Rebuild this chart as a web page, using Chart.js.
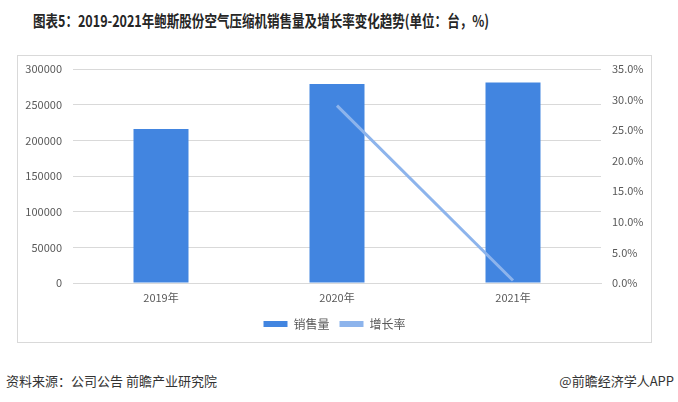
<!DOCTYPE html>
<html>
<head>
<meta charset="utf-8">
<script src="https://cdn.jsdelivr.net/npm/chart.js@4.4.1/dist/chart.umd.min.js"></script>
<style>
  html, body { margin: 0; padding: 0; background: #fff; }
  body { width: 678px; height: 402px; position: relative; overflow: hidden; font-family: "Noto Sans CJK SC", "Noto Sans", sans-serif; }
  #title { position: absolute; left: 33px; top: 10px; white-space: nowrap; font-weight: bold; font-size: 16px; line-height: 20px; color: #262626; font-family: "Liberation Sans Narrow", "Noto Sans CJK SC", sans-serif; transform-origin: left center; }
  #box { position: absolute; left: 17px; top: 55px; width: 633px; height: 286px; border: 1px solid #d9d9d9; }
  #chartWrap { position: absolute; left: 0; top: 0; width: 633px; height: 286px; }
  #src { position: absolute; left: 6px; top: 371px; font-size: 13px; color: #333; white-space: nowrap; }
  #app { position: absolute; right: 4px; top: 371px; font-size: 13px; color: #333; white-space: nowrap; }
</style>
</head>
<body>
<div id="title"><span id="titleText">图表5：2019-2021年鲍斯股份空气压缩机销售量及增长率变化趋势(单位：台，%)</span></div>
<div id="box"><div id="chartWrap"><canvas id="c" width="633" height="286"></canvas></div></div>
<div id="src">资料来源：公司公告 前瞻产业研究院</div>
<div id="app">@前瞻经济学人APP</div>
<script>
const categories = ['2019年', '2020年', '2021年'];
const salesVolume = [216000, 279000, 281000];
const growthRate = [null, 29.0, 0.4];
const leftTicks = [0, 50000, 100000, 150000, 200000, 250000, 300000];
const rightTicks = [0, 5, 10, 15, 20, 25, 30, 35];

// fit title width
(function(){
  const t = document.getElementById('title');
  const w = t.getBoundingClientRect().width;
  t.style.transform = 'scaleX(' + (456 / w) + ')';
})();

const tickColor = '#595959';
const gridColor = '#d9d9d9';

function fixVert(width) {
  return s => { s.width = width; s.paddingTop = 0; s.paddingBottom = 0; };
}

new Chart(document.getElementById('c'), {
  data: {
    labels: categories,
    datasets: [
      {
        type: 'line',
        label: '增长率',
        data: growthRate,
        yAxisID: 'y1',
        borderColor: '#8db4ec',
        backgroundColor: '#8db4ec',
        borderWidth: 3,
        pointRadius: 0,
        pointHoverRadius: 0,
        tension: 0,
        order: 1
      },
      {
        type: 'bar',
        label: '销售量',
        data: salesVolume,
        yAxisID: 'y',
        backgroundColor: '#4285e0',
        borderWidth: 0,
        categoryPercentage: 1,
        barPercentage: 0.3125,
        order: 2
      }
    ]
  },
  options: {
    responsive: false,
    animation: false,
    layout: { padding: { top: 13, bottom: 2, left: 0, right: 0 } },
    plugins: {
      tooltip: { enabled: false },
      legend: {
        position: 'bottom',
        reverse: true,
        labels: {
          boxWidth: 24,
          boxHeight: 6,
          padding: 10,
          color: tickColor,
          font: { size: 12, family: '"Noto Sans CJK SC", sans-serif' },
          generateLabels: function(chart) {
            return chart.data.datasets.map((ds, i) => ({
              text: ds.label,
              fillStyle: ds.type === 'bar' ? ds.backgroundColor : ds.borderColor,
              strokeStyle: ds.type === 'bar' ? ds.backgroundColor : ds.borderColor,
              lineWidth: 0,
              hidden: false,
              datasetIndex: i,
              fontColor: tickColor
            }));
          }
        }
      }
    },
    scales: {
      x: {
        grid: { display: false, drawTicks: false },
        border: { display: true, color: gridColor, width: 1 },
        ticks: { color: tickColor, padding: 8, font: { size: 11, family: '"Noto Sans CJK SC", sans-serif' } },
        afterFit: s => { s.height = 25; s.paddingLeft = 0; s.paddingRight = 0; }
      },
      y: {
        position: 'left',
        min: 0,
        max: 300000,
        afterBuildTicks: s => { s.ticks = leftTicks.map(v => ({ value: v })); },
        grid: { color: gridColor, drawTicks: false },
        border: { display: false },
        ticks: { color: tickColor, padding: 11, font: { size: 11, family: '"Noto Sans CJK SC", sans-serif' }, callback: v => String(v) },
        afterFit: fixVert(55)
      },
      y1: {
        position: 'right',
        min: 0,
        max: 35,
        afterBuildTicks: s => { s.ticks = rightTicks.map(v => ({ value: v })); },
        grid: { drawOnChartArea: false, drawTicks: false },
        border: { display: false },
        ticks: { color: tickColor, padding: 11, font: { size: 11, family: '"Noto Sans CJK SC", sans-serif' }, callback: v => v.toFixed(1) + '%' },
        afterFit: fixVert(50)
      }
    }
  }
});
</script>
</body>
</html>
